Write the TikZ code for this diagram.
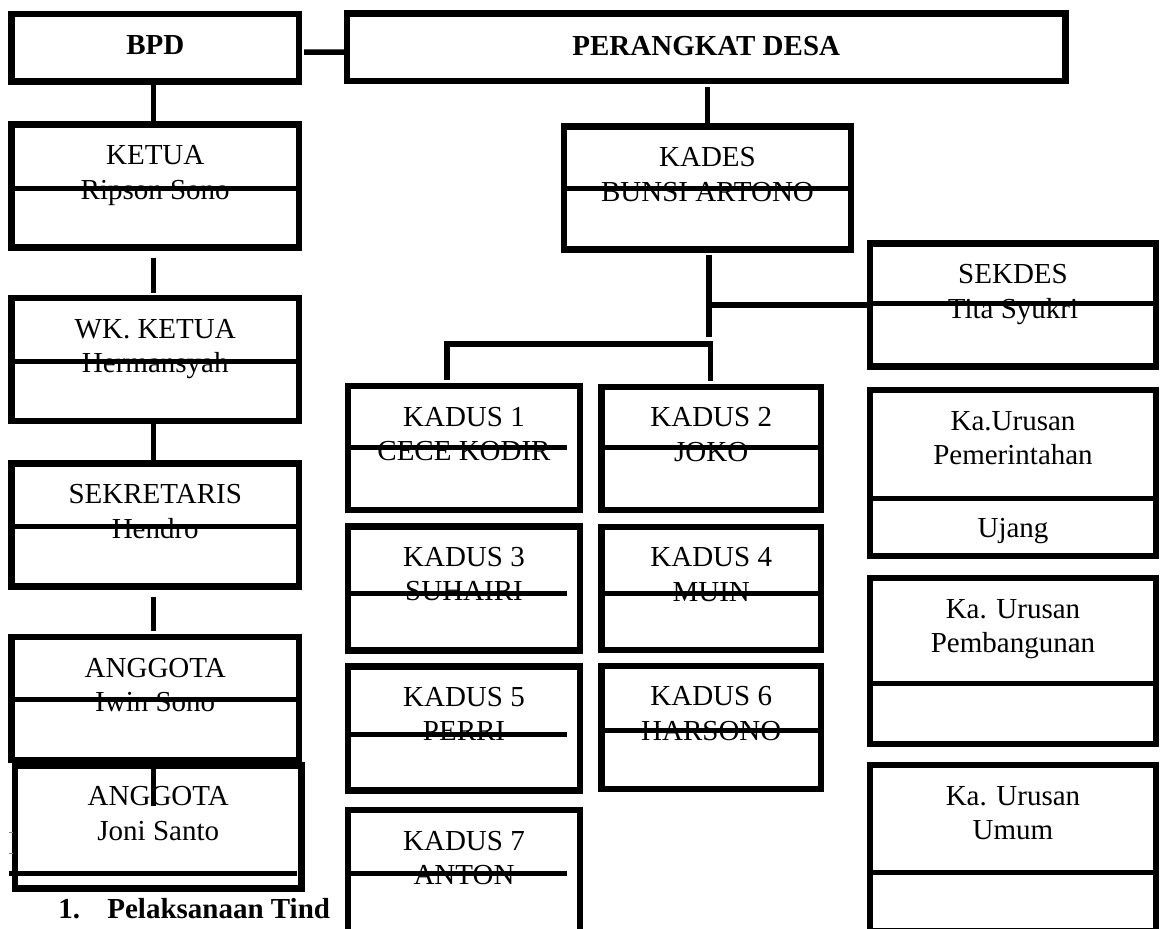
\documentclass[tikz,border=0pt]{standalone}
\usepackage{fontspec}
\setmainfont{Liberation Serif}
\usetikzlibrary{calc}

\begin{document}
\begin{tikzpicture}[x=0.2mm, y=-0.2mm,
    box/.style={draw, line width=1.3mm, inner sep=0pt, outer sep=0pt, fill=white},
    head/.style={box, minimum height=13.5mm},
    member/.style={box, minimum width=57.5mm, minimum height=24.6mm},
    dusun/.style={box, minimum width=46.4mm, minimum height=24.8mm},
    dusunb/.style={box, minimum width=43.9mm, minimum height=24.6mm},
    urusan/.style={box, minimum width=57.2mm, minimum height=33.2mm},
    txt/.style={anchor=base, align=center, inner sep=0pt, font=\fontsize{16.5}{19.6}\selectfont},
    btxt/.style={txt, font=\fontsize{16.5}{19.6}\selectfont\bfseries},
    midline/.style={line width=1mm},
    link/.style={line width=1.1mm}]

                  \clip (0, 0) rectangle (1160, 929);

                  \node[btxt, anchor=base west] (num) at (58, 918) {1.};
                  \node[btxt, anchor=base west] (item) at (107, 918) {Pelaksanaan Tind};

                  \node[head, minimum width=57.5mm] (bpd) at (155.25, 47.5) {};
                  \node[head, minimum width=143.7mm] (desa) at (706.25, 47) {};

                  \node[member] (ketua) at (155.25, 186) {};
                  \node[member] (wk) at (155.25, 359.5) {};
                  \node[member] (sek) at (155.25, 525) {};
                  \node[member] (ang1) at (155.25, 698.5) {};
                  \node[member, minimum width=57.3mm] (ang2) at (158.25, 827) {};

                  \node[member, minimum width=57.4mm] (kades) at (707.5, 188) {};
                  \node[member, minimum width=57.2mm] (sekdes) at (1013, 305) {};

                  \foreach \n/\y in {kadus1/448, kadus3/588.25, kadus5/728.25, kadus7/872}
                      \node[dusun] (\n) at (464, \y) {};
                  \foreach \n/\y in {kadus2/448.25, kadus4/588.25, kadus6/727.25}
                      \node[dusunb] (\n) at (711.25, \y) {};
                  \foreach \n/\y in {urpem/473, urbang/661, urumum/848}
                      \node[urusan] (\n) at (1013, \y) {};

                  \node[btxt] (bpd-t) at ($(bpd.north)+(0, 41)$) {BPD};
                  \node[btxt] (desa-t) at ($(desa.north)+(0, 42)$) {PERANGKAT DESA};

                  \foreach \n/\t in {ketua/{KETUA\\Ripson Sono}, wk/{WK. KETUA\\Hermansyah},
                          sek/{SEKRETARIS\\Hendro}, ang1/{ANGGOTA\\Iwin Sono}, ang2/{ANGGOTA\\Joni Santo},
                          kades/{KADES\\BUNSI ARTONO}, sekdes/{SEKDES\\Tita Syukri},
                          kadus1/{KADUS 1\\CECE KODIR}, kadus2/{KADUS 2\\JOKO}, kadus3/{KADUS 3\\SUHAIRI},
                          kadus4/{KADUS 4\\MUIN}, kadus5/{KADUS 5\\PERRI}, kadus6/{KADUS 6\\HARSONO},
                          kadus7/{KADUS 7\\ANTON}, urpem/{Ka.Urusan\\Pemerintahan},
                          urbang/{Ka. Urusan\\Pembangunan}, urumum/{Ka. Urusan\\Umum}} {
                          \node[txt] (\n-t) at ($(\n.north)+(0, 74.5)$) {\t};
                      }
                  \node[txt] (ujang) at ($(urpem.north)+(0, 147)$) {Ujang};

                  \foreach \n/\d in {ketua/2, wk/2, sek/1, ang1/0.5, kades/0, sekdes/-2, kadus2/-1,
                          kadus4/5, kadus6/3, urpem/25.5, urbang/22, urumum/24} {
                          \draw[midline] ($(\n.west)+(0, \d)$) -- ($(\n.east)+(0, \d)$);
                      }
                  \foreach \n/\d in {kadus1/-1, kadus3/5, kadus5/6, kadus7/1} {
                          \draw[midline] ($(\n.west)+(0, \d)$) -- ($(\n.east)+(-13, \d)$);
                      }
                  \draw[midline] ($(ang2.west)+(-6, 46)$) -- ($(ang2.east)+(-4.5, 46)$);

                  \draw[link] ($(bpd.east)+(5, 4.5)$) -- ($(desa.west)+(0, 5)$);
                  \draw[link] ($(bpd.south)+(-2, 0)$) -- ($(ketua.north)+(-2, 0)$);
                  \draw[link] ($(ketua.south)+(-2, 10)$) -- ($(wk.north)+(-2, -5)$);
                  \draw[link] ($(wk.south)+(-2, 0)$) -- ($(sek.north)+(-2, 0)$);
                  \draw[link] ($(sek.south)+(-2, 10)$) -- ($(ang1.north)+(-2, -6)$);
                  \draw[link] ($(ang1.south)+(-2, 0)$) -- ($(ang2.north)+(-5, 40)$);

                  \draw[link] ($(desa.south -| kades.north)+(0, 6)$) -- (kades.north);
                  \coordinate (split) at ($(kades.south)+(1.5, 87)$);
                  \draw[link] ($(kades.south)+(1.5, 5)$) -- (split);
                  \draw[link] (sekdes.west -| split) -- (sekdes.west);
                  \draw[link] ($(kadus1.north)+(-17, -6)$) |- ($(kadus2.north)+(-1, -43)$) -- ($(kadus2.north)+(-1, -6)$);

                  \draw[line width=0.2mm, gray] (9, 832) -- (13, 832);
                  \draw[line width=0.2mm, gray] (9, 853) -- (13, 853);
\end{tikzpicture}
\end{document}
